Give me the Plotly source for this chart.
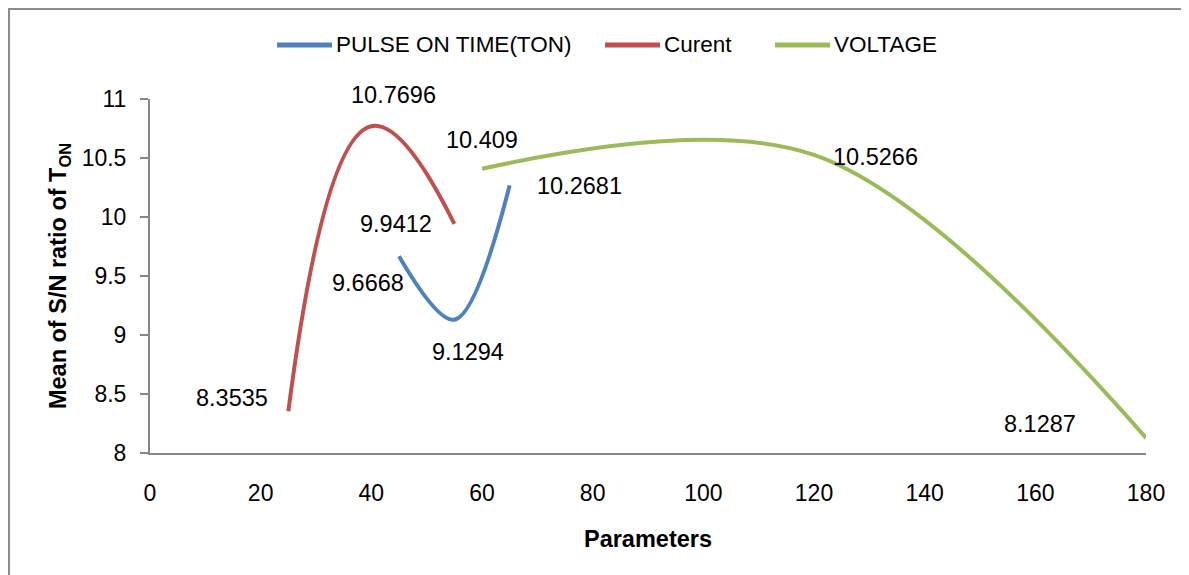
import plotly.graph_objects as go

# Data
pulse_x = [45, 55, 65]
pulse_y = [9.6668, 9.1294, 10.2681]
current_x = [25, 40, 55]
current_y = [8.3535, 10.7696, 9.9412]
voltage_x = [60, 120, 180]
voltage_y = [10.409, 10.5266, 8.1287]

series_names = ["PULSE ON TIME(TON)", "Curent", "VOLTAGE"]
colors = ["#4F81BD", "#C0504D", "#9BBB59"]

x_ticks = [0, 20, 40, 60, 80, 100, 120, 140, 160, 180]
y_ticks = [8, 8.5, 9, 9.5, 10, 10.5, 11]

FONT = "Liberation Sans, Arial, sans-serif"

# figure geometry (page body adds 8px offset)
W, H = 1181, 567
ML, MR, MT, MB = 142, 43, 91, 122
PW = W - ML - MR
PH = H - MT - MB


def px(xf):
    return (xf - ML) / PW


def py(yf):
    return (H - MB - yf) / PH


fig = go.Figure()
smooth = [1.0, 1.3, 1.0]
for name, xs, ys, c, sm in zip(series_names, [pulse_x, current_x, voltage_x],
                               [pulse_y, current_y, voltage_y], colors, smooth):
    fig.add_trace(go.Scatter(x=xs, y=ys, mode="lines", name=name, showlegend=False,
                             line=dict(color=c, width=4, shape="spline", smoothing=sm)))

# label offsets (pixels) per point
offsets = {
    "PULSE ON TIME(TON)": [(-31, -27), (14, -32), (70, -1)],
    "Curent": [(-56, 13), (22, 31), (-58, 0)],
    "VOLTAGE": [(0, 29), (61, -2), (-106, 14)],
}
for name, xs, ys in zip(series_names, [pulse_x, current_x, voltage_x],
                        [pulse_y, current_y, voltage_y]):
    for (xv, yv), (dx, dy) in zip(zip(xs, ys), offsets[name]):
        fig.add_annotation(x=xv, y=yv, text=f"{yv:g}", showarrow=False,
                           xshift=dx, yshift=dy,
                           font=dict(family=FONT, size=23.5, color="#000000"))

# custom legend (long line samples like the reference)
leg_line_x = [269, 597, 767]
leg_y = 37
for name, c, lx in zip(series_names, colors, leg_line_x):
    fig.add_shape(type="line", xref="paper", yref="paper",
                  x0=px(lx), x1=px(lx + 55), y0=py(leg_y), y1=py(leg_y),
                  line=dict(color=c, width=5))
    fig.add_annotation(xref="paper", yref="paper", x=px(lx + 57), y=py(leg_y),
                       xanchor="left", yanchor="middle", showarrow=False,
                       text=name, font=dict(family=FONT, size=22.5, color="#000000"))

# outer frame
fig.add_shape(type="rect", xref="paper", yref="paper",
              x0=px(1), y0=py(H + 40), x1=px(W + 40), y1=py(1),
              line=dict(color="#8c8c8c", width=2), layer="below")

fig.update_layout(
    width=W, height=H,
    margin=dict(l=ML, r=MR, t=MT, b=MB),
    paper_bgcolor="white", plot_bgcolor="white",
    font=dict(family=FONT, size=23, color="#000000"),
    showlegend=False,
    xaxis=dict(range=[0, 180], tickvals=x_ticks, ticks="", showgrid=False,
               zeroline=False, showline=True, linecolor="#868686", linewidth=2,
               ticklabelstandoff=18,
               tickfont=dict(family=FONT, size=23),
               title=dict(text="<b>Parameters</b>", standoff=26,
                          font=dict(family=FONT, size=23.5))),
    yaxis=dict(range=[8, 11], tickvals=y_ticks, ticks="outside", ticklen=8,
               tickcolor="#868686", tickwidth=2, showgrid=False,
               zeroline=False, showline=True, linecolor="#868686", linewidth=2,
               ticklabelstandoff=9,
               tickfont=dict(family=FONT, size=23),
               title=dict(text="<b>Mean of S/N ratio of T<sub>ON</sub></b>", standoff=8,
                          font=dict(family=FONT, size=23.5))),
)

fig.write_html("out.html")
